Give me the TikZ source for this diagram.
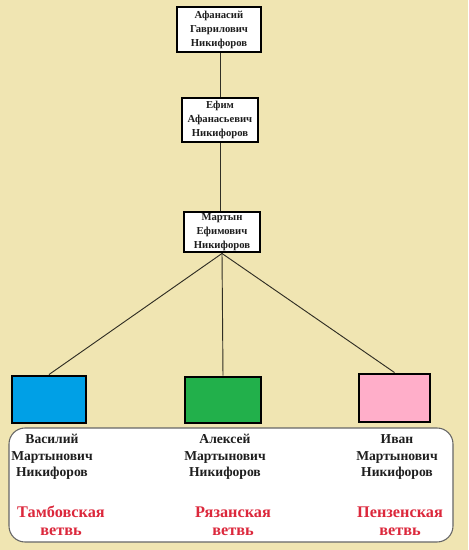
\documentclass[tikz,border=0pt]{standalone}
\usepackage{fontspec}
\setmainfont{Liberation Serif}
\definecolor{bg}{RGB}{240,229,178}
\definecolor{bluebox}{RGB}{0,160,230}
\definecolor{greenbox}{RGB}{34,176,75}
\definecolor{pinkbox}{RGB}{255,174,201}
\definecolor{redtxt}{RGB}{220,40,60}
\definecolor{txt}{RGB}{30,30,30}
\begin{document}
\begin{tikzpicture}[x=0.75pt,y=-0.75pt,
  person/.style={draw=black,line width=2.2pt,fill=white,align=center,inner sep=0pt,
    font=\fontsize{8}{10.5}\selectfont\bfseries,text=txt},
  colbox/.style={draw=black,line width=2.2pt,inner sep=0pt},
  son/.style={align=center,font=\fontsize{10.2}{12.4}\selectfont\bfseries,text=txt},
  branch/.style={align=center,font=\fontsize{12.2}{13.5}\selectfont\bfseries,text=redtxt},
  link/.style={draw=black!80!bg,line width=0.7pt}]
\fill[bg] (0,0) rectangle (468,550);
\useasboundingbox (0,0) rectangle (468,550);
\node[person,minimum width=84*0.75pt,minimum height=45*0.75pt] (a) at (219,29.5) {Афанасий\\Гаврилович\\Никифоров};
\node[person,minimum width=76*0.75pt,minimum height=44*0.75pt] (b) at (220,120) {Ефим\\Афанасьевич\\Никифоров};
\node[person,minimum width=76*0.75pt,minimum height=40*0.75pt] (c) at (222,232) {Мартын\\Ефимович\\Никифоров};
\node[colbox,fill=bluebox,minimum width=74*0.75pt,minimum height=47*0.75pt] (d) at (49,399.5) {};
\node[colbox,fill=greenbox,minimum width=76*0.75pt,minimum height=46*0.75pt] (e) at (223,400) {};
\node[colbox,fill=pinkbox,minimum width=71*0.75pt,minimum height=48*0.75pt] (f) at (394.5,398) {};
\draw[link] (b.north |- a.south) -- (b.north);
\draw[link] (b.south) -- (b.south |- c.north);
\draw[link] (c.south) -- (d.north);
\draw[link] (c.south) -- (e.north);
\draw[link] (c.south) -- (f.north);
\node[draw=black!60,line width=0.8pt,fill=white,rounded corners=12pt,minimum width=444*0.75pt,minimum height=114*0.75pt] (panel) at (231,485) {};
\node[son] (s1) at (52,457) {Василий\\Мартынович\\Никифоров};
\node[son] (s2) at (225,457) {Алексей\\Мартынович\\Никифоров};
\node[son] (s3) at (397,457) {Иван\\Мартынович\\Никифоров};
\node[branch] (r1) at (61,521) {Тамбовская\\ветвь};
\node[branch] (r2) at (233,521) {Рязанская\\ветвь};
\node[branch] (r3) at (400,521) {Пензенская\\ветвь};
\end{tikzpicture}
\end{document}
